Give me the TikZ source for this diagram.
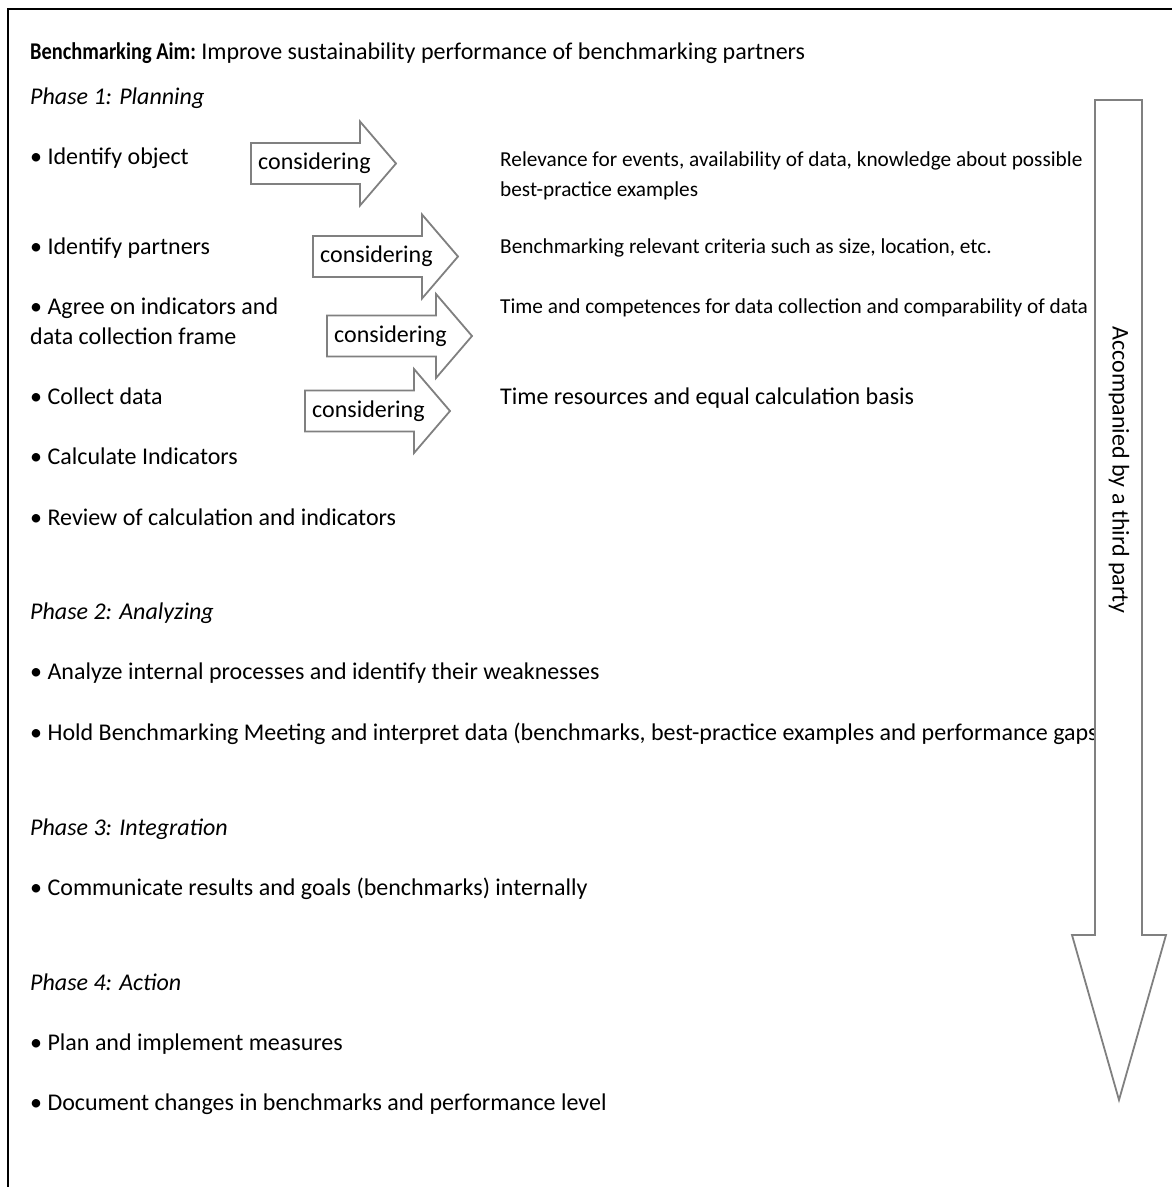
\documentclass[tikz,border=0pt]{standalone}
\usepackage{fontspec}
\setmainfont{Carlito}
\begin{document}
\begin{tikzpicture}[x=1pt,y=-1pt,
  frame/.style={line width=2pt,draw=black},
  blockarrow/.style={draw=black!50,line width=1.8pt,line join=miter,fill=white},
  txt/.style={anchor=base west,inner sep=0pt,font=\fontsize{24}{28}\selectfont,text=black},
  smalltxt/.style={anchor=base west,inner sep=0pt,font=\fontsize{21.3}{25}\selectfont,text=black},
  phase/.style={txt,font=\fontsize{24}{28}\selectfont\itshape},
  constxt/.style={anchor=west,inner sep=0pt,font=\fontsize{24}{28}\selectfont,text=black}]
\useasboundingbox (0,0) rectangle (1171,1187);
\newcommand{\consarrow}[3]{%
  \path[blockarrow] (#2,#3-20.5) -- (#2+109,#3-20.5) -- (#2+109,#3-42) -- (#2+145,#3)
    -- (#2+109,#3+42) -- (#2+109,#3+20.5) -- (#2,#3+20.5) -- cycle;
  \node[constxt] (#1) at (#2+7,#3) {considering};}
% frame
\draw[frame] (1175,9) -- (8,9) -- (8,1190);
% texts
\node[txt] (aim) at (30,59) {\scalebox{0.85}[1]{\textbf{Benchmarking Aim:}} Improve sustainability performance of benchmarking partners};
\node[phase] (p1) at (30,104) {Phase 1: Planning};
\node[txt] (i1) at (30,164) {• Identify object};
\node[txt] (i2) at (30,254) {• Identify partners};
\node[txt] (i3) at (30,314) {• Agree on indicators and};
\node[txt] (i3b) at (30,344) {data collection frame};
\node[txt] (i4) at (30,404) {• Collect data};
\node[txt] (i5) at (30,464) {• Calculate Indicators};
\node[txt] (i6) at (30,525) {• Review of calculation and indicators};
\node[phase] (p2) at (30,619) {Phase 2: Analyzing};
\node[txt] (a1) at (30,679) {• Analyze internal processes and identify their weaknesses};
\node[txt] (a2) at (30,740) {• Hold Benchmarking Meeting and interpret data (benchmarks, best-practice examples and performance gaps};
\node[phase] (p3) at (30,835) {Phase 3: Integration};
\node[txt] (n1) at (30,895) {• Communicate results and goals (benchmarks) internally};
\node[phase] (p4) at (30,990) {Phase 4: Action};
\node[txt] (c1) at (30,1050) {• Plan and implement measures};
\node[txt] (c2) at (30,1110) {• Document changes in benchmarks and performance level};
% considerations
\node[smalltxt] (r1) at (500,166) {Relevance for events, availability of data, knowledge about possible};
\node[smalltxt] (r1b) at (500,196) {best-practice examples};
\node[smalltxt] (r2) at (500,253) {Benchmarking relevant criteria such as size, location, etc.};
\node[smalltxt] (r3) at (500,313) {Time and competences for data collection and comparability of data};
\node[txt] (r4) at (500,404) {Time resources and equal calculation basis};
% arrows
\consarrow{k1}{251}{163.5}
\consarrow{k2}{313}{256.5}
\consarrow{k3}{327}{336}
\consarrow{k4}{305}{411}
% vertical arrow (drawn over the text, as in the original)
\path[blockarrow] (1095,100) -- (1142,100) -- (1142,935) -- (1166,935) -- (1119,1100)
  -- (1072,935) -- (1095,935) -- cycle;
\node[rotate=-90,inner sep=0pt,font=\fontsize{24}{28}\selectfont,text=black] (third) at (1119,470) {Accompanied by a third party};
\end{tikzpicture}
\end{document}
